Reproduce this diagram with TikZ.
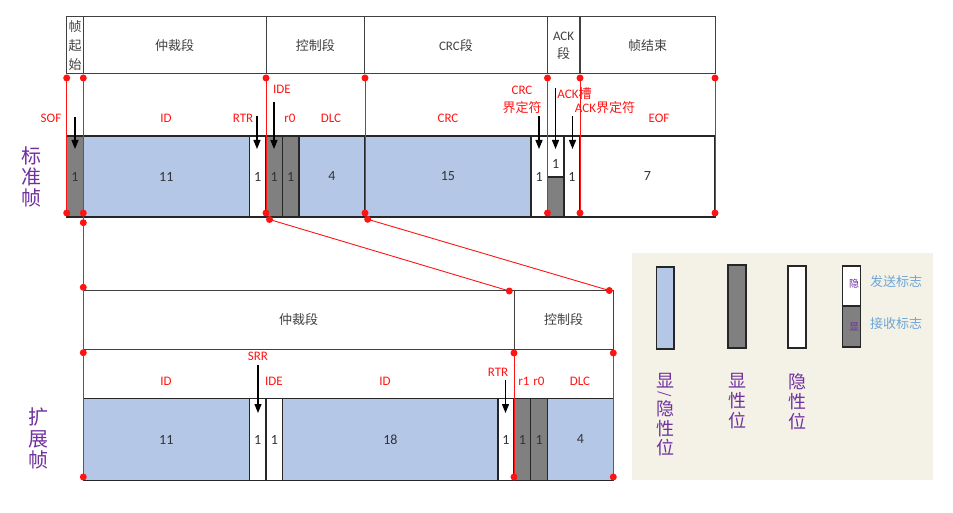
\documentclass[tikz,border=0pt]{standalone}
\usepackage{fontspec}
\setmainfont{Carlito}
\newfontfamily\cjk{Noto Sans CJK SC}
\usetikzlibrary{arrows.meta}
\definecolor{bitblue}{RGB}{180,199,231}
\definecolor{bitgray}{RGB}{128,128,128}
\definecolor{legbg}{RGB}{244,242,231}
\definecolor{purp}{RGB}{112,48,160}
\definecolor{legblue}{RGB}{110,165,215}
\definecolor{redl}{RGB}{255,20,20}
\begin{document}
\begin{tikzpicture}[x=1pt,y=-1pt,
  cell/.style={draw=black!85, line width=1.2pt, inner sep=0pt, outer sep=0pt, anchor=north west,
    font=\fontsize{14}{16}\selectfont, text=black!80},
  tcell/.style={cell, minimum height=81},
  bcell/.style={cell, minimum height=82},
  bluec/.style={fill=bitblue},
  darkc/.style={fill=bitgray},
  whitec/.style={fill=white},
  hdr/.style={draw=black!75, line width=1pt, inner sep=0pt, outer sep=0pt, anchor=north west,
    font=\cjk\fontsize{13}{15}\selectfont, text=black!75, align=center},
  lab/.style={text=redl, font=\fontsize{13}{16}\selectfont, inner sep=0pt, align=center},
  rdot/.style={circle, fill=redl, inner sep=0pt, minimum size=7pt},
  rl/.style={draw=redl, line width=0.9pt},
  arr/.style={-{Triangle[width=7pt,length=9pt]}, line width=1.2pt, black},
  side/.style={text=purp, font=\cjk\fontsize{20}{21}\selectfont, align=center, inner sep=0pt},
  legv/.style={text=purp, font=\cjk\fontsize{18}{20}\selectfont, align=center, inner sep=0pt},
  legt/.style={text=legblue, font=\cjk\fontsize{13}{15}\selectfont, inner sep=0pt},
]
\useasboundingbox (0,0) rectangle (953,513);

% ---------- standard frame header ----------
\node[hdr, minimum width=16.6, minimum height=57, font=\cjk\fontsize{13}{19}\selectfont] (h1) at (66.7,17) {帧\\起\\始};
\node[hdr, minimum width=182.7, minimum height=57] (h2) at (83.3,17) {仲裁段};
\node[hdr, minimum width=98.7, minimum height=57] (h3) at (266,17) {控制段};
\node[hdr, minimum width=182.5, minimum height=57] (h4) at (364.7,17) {{\rmfamily CRC}段};
\node[hdr, minimum width=32.5, minimum height=57, font=\cjk\fontsize{13}{18}\selectfont] (h5) at (547.3,17) {{\rmfamily ACK}\\段};
\node[hdr, minimum width=135, minimum height=57] (h6) at (580,17) {帧结束};

% ---------- standard frame bits ----------
\node[tcell, darkc,  minimum width=16.6]  (s1)  at (66.7,136) {1};
\node[tcell, bluec,  minimum width=166]   (s2)  at (83.3,136) {11};
\node[tcell, whitec, minimum width=16.7]  (s3)  at (249.3,136) {1};
\node[tcell, darkc,  minimum width=16.5]  (s4)  at (266,136) {1};
\node[tcell, darkc,  minimum width=16.5]  (s5)  at (282.5,136) {1};
\node[tcell, bluec,  minimum width=65.7]  (s6)  at (299,136) {4};
\node[tcell, bluec,  minimum width=166.3] (s7)  at (364.7,136) {15};
\node[tcell, whitec, minimum width=16.5]  (s8)  at (531,136) {1};
\node[tcell, whitec, minimum width=16.5]  (s9)  at (547.5,136) {};
\node[cell, darkc, minimum width=16.5, minimum height=40] (s9b) at (547.5,177) {};
\node[inner sep=0pt, font=\fontsize{14}{16}\selectfont, text=black!80] (s9t) at (555.7,164) {1};
\node[tcell, whitec, minimum width=16]    (s10) at (564,136) {1};
\node[tcell, whitec, minimum width=135]   (s11) at (580,136) {7};

% ---------- extended frame header ----------
\node[hdr, minimum width=430.7, minimum height=58.3] (e1h) at (83.3,290.7) {仲裁段};
\node[hdr, minimum width=99.3, minimum height=58.3] (e2h) at (514,290.7) {控制段};

% ---------- extended frame bits ----------
\node[bcell, bluec,  minimum width=166]   (x1) at (83.3,398.5) {11};
\node[bcell, whitec, minimum width=16.7]  (x2) at (249.3,398.5) {1};
\node[bcell, whitec, minimum width=16.7]  (x3) at (266,398.5) {1};
\node[bcell, bluec,  minimum width=215.3] (x4) at (282.7,398.5) {18};
\node[bcell, whitec, minimum width=16]    (x5) at (498,398.5) {1};
\node[bcell, darkc,  minimum width=16.7]  (x6) at (514,398.5) {1};
\node[bcell, darkc,  minimum width=16.8]  (x7) at (530.7,398.5) {1};
\node[bcell, bluec,  minimum width=65.8]  (x8) at (547.5,398.5) {4};

% ---------- red dots ----------
\foreach \n/\x in {a/66.7,b/83.3,c/266,d/365,e/547.5,f/580,g/715}{
  \node[rdot] (t\n) at (\x,78) {};
  \node[rdot] (u\n) at (\x,213) {};
}
\node[rdot] (v1) at (83.3,222.7) {};
\node[rdot] (v2) at (269.5,219.5) {};
\node[rdot] (v3) at (367.7,219.3) {};
\node[rdot] (w1) at (83.3,287.3) {};
\node[rdot] (w2) at (509.3,291) {};
\node[rdot] (w3) at (609.3,290.5) {};
\node[rdot] (w4) at (83.3,352.7) {};
\node[rdot] (w5) at (514,353) {};
\node[rdot] (w6) at (613.3,353) {};
\node[rdot] (w7) at (83.3,477) {};
\node[rdot] (w8) at (514,477) {};
\node[rdot] (w9) at (613.3,477) {};

% ---------- red lines ----------
\foreach \n in {a,b,c,d,e,f,g}{ \draw[rl] (t\n.center) -- (u\n.center); }
\draw[rl] (ub.center) -- (v1.center) -- (w1.center) -- (w4.center) -- (w7.center);
\draw[rl] (v2.center) -- (w2.center);
\draw[rl] (v3.center) -- (w3.center);
\draw[rl] (w5.center) -- (w8.center);
\draw[rl] (w6.center) -- (w9.center);

% ---------- red labels, standard ----------
\node[lab] (lsof) at (51,118) {SOF};
\node[lab] (lid)  at (166,118) {ID};
\node[lab] (lrtr) at (243,118) {RTR};
\node[lab] (lide) at (282,89) {IDE};
\node[lab] (lr0)  at (290,118) {r0};
\node[lab] (ldlc) at (331,118) {DLC};
\node[lab] (lcrc) at (448,118) {CRC};
\node[lab, font=\fontsize{13}{17.5}\selectfont] (lcrcd) at (522,100) {CRC\\{\cjk 界定符}};
\node[lab] (lack) at (574.5,94) {ACK{\cjk 槽}};
\node[lab] (lackd) at (605,108) {ACK{\cjk 界定符}};
\node[lab] (leof) at (659,118) {EOF};

% ---------- red labels, extended ----------
\node[lab] (mid1) at (166,381) {ID};
\node[lab] (msrr) at (258,356) {SRR};
\node[lab] (mide) at (274,381) {IDE};
\node[lab] (mid2) at (385,381) {ID};
\node[lab] (mrtr) at (498,372) {RTR};
\node[lab] (mr1)  at (524,381) {r1};
\node[lab] (mr0)  at (539,381) {r0};
\node[lab] (mdlc) at (580,381) {DLC};

% ---------- arrows ----------
\coordinate (a1s) at (75,117);   \coordinate (a1e) at (75,149);
\coordinate (a2s) at (257,116);  \coordinate (a2e) at (257,149);
\coordinate (a3s) at (274,102);  \coordinate (a3e) at (274,149);
\coordinate (a4s) at (539,116);  \coordinate (a4e) at (539,149);
\coordinate (a5s) at (555.5,88); \coordinate (a5e) at (555.5,149);
\coordinate (a6s) at (572.5,116);\coordinate (a6e) at (572.5,149);
\coordinate (b1s) at (258,365);  \coordinate (b1e) at (258,413);
\coordinate (b2s) at (505.5,380);\coordinate (b2e) at (505.5,413);
\foreach \p in {a1,a2,a3,a4,a5,a6,b1,b2}{ \draw[arr] (\p s) -- (\p e); }

% ---------- side labels ----------
\node[side] (std) at (31,177) {标\\准\\帧};
\node[side, font=\cjk\fontsize{20}{21.5}\selectfont] (ext) at (38,438.5) {扩\\展\\帧};

% ---------- legend ----------
\node[fill=legbg, inner sep=0pt, minimum width=301, minimum height=227, anchor=north west] (legend) at (632,253) {};
\node[cell, bluec,  minimum width=17.3, minimum height=82] (g1) at (656.7,267) {};
\node[cell, darkc,  minimum width=18,   minimum height=83] (g2) at (728,265) {};
\node[cell, whitec, minimum width=18,   minimum height=82] (g3) at (788,266) {};
\node[cell, whitec, minimum width=18,   minimum height=40] (g4a) at (842.7,266) {};
\node[cell, darkc,  minimum width=18,   minimum height=41] (g4b) at (842.7,306) {};
\node[text=purp, font=\cjk\fontsize{10}{11}\selectfont, inner sep=0pt] (g4at) at (854,284) {隐};
\node[text=purp, font=\cjk\fontsize{10}{11}\selectfont, inner sep=0pt] (g4bt) at (854,327) {显};
\node[legt] (gsend) at (896,281.5) {发送标志};
\node[legt] (grecv) at (896,324) {接收标志};

\node[legv] (v1a) at (665,381) {显};
\node[legv] (v1b) at (665,394) {\rotatebox{-90}{\fontsize{14}{14}\selectfont /}};
\node[legv, font=\cjk\fontsize{18}{19.3}\selectfont] (v1c) at (665,428.5) {隐\\性\\位};
\node[legv] (v2) at (737,401.5) {显\\性\\位};
\node[legv] (v3) at (797,401.5) {隐\\性\\位};
\end{tikzpicture}
\end{document}
